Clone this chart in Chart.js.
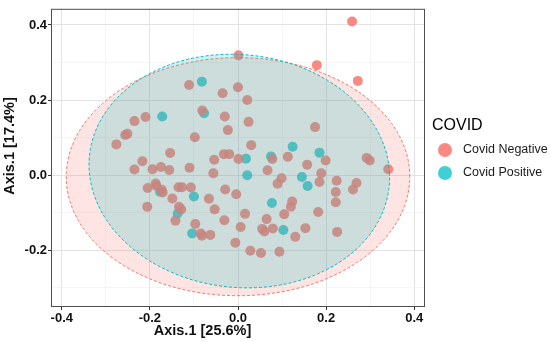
<!DOCTYPE html>
<html>
<head>
<meta charset="utf-8">
<script src="https://cdn.jsdelivr.net/npm/chart.js@4.4.1/dist/chart.umd.min.js"></script>
<style>
  html, body { margin: 0; padding: 0; background: #fff; }
</style>
</head>
<body>
<canvas id="pcoa" width="551" height="342"></canvas>
<script>
// groups
const groups = ['Covid Negative', 'Covid Positive'];

// Covid Negative samples (Axis.1 [25.6%], Axis.1 [17.4%])
const negX = [0.259, 0.001, 0.179, 0.272, -0.111, 0.000, -0.035, 0.021, -0.081, -0.210,
  -0.030, -0.235, 0.024, 0.175, -0.023, -0.256, -0.251, -0.098, -0.276, 0.030,
  -0.154, -0.032, -0.020, 0.292, 0.299, -0.217, -0.054, 0.001, 0.078, 0.113,
  0.199, -0.235, -0.194, -0.175, -0.156, -0.110, 0.157, 0.341, -0.056, 0.067,
  0.189, 0.099, 0.090, 0.185, 0.224, 0.269, 0.261, 0.222, 0.222, -0.187,
  -0.185, -0.173, -0.171, -0.205, -0.149, -0.135, -0.127, -0.107, -0.029, -0.004,
  -0.066, -0.206, -0.134, -0.129, -0.142, -0.097, -0.053, 0.123, 0.120, 0.182,
  0.105, 0.016, -0.031, 0.065, 0.006, -0.085, -0.082, -0.063, 0.055, 0.060,
  0.079, 0.153, 0.225, 0.130, -0.006, 0.028, 0.052, 0.094];
const negY = [0.409, 0.319, 0.293, 0.251, 0.240, 0.234, 0.218, 0.200, 0.172, 0.155,
  0.156, 0.144, 0.142, 0.128, 0.120, 0.107, 0.110, 0.101, 0.082, 0.080,
  0.059, 0.056, 0.056, 0.046, 0.039, 0.037, 0.041, 0.043, 0.043, 0.049,
  0.039, 0.015, 0.016, 0.022, 0.014, 0.020, 0.028, 0.016, 0.005, 0.013,
  0.005, -0.008, -0.023, -0.018, -0.015, -0.021, -0.038, -0.045, -0.072, -0.022,
  -0.029, -0.039, -0.046, -0.034, -0.062, -0.032, -0.032, -0.033, -0.038, -0.051,
  -0.063, -0.084, -0.084, -0.091, -0.121, -0.130, -0.091, -0.070, -0.084, -0.098,
  -0.104, -0.103, -0.120, -0.117, -0.138, -0.155, -0.161, -0.159, -0.143, -0.150,
  -0.142, -0.141, -0.151, -0.164, -0.180, -0.201, -0.207, -0.204];

// Covid Positive samples
const posX = [-0.082, -0.172, -0.077, 0.124, 0.185, 0.018, 0.075, 0.021, 0.145, 0.158,
  -0.177, -0.100, -0.137, 0.077, -0.104, 0.103];
const posY = [0.249, 0.156, 0.165, 0.076, 0.060, 0.044, 0.050, 0.000, -0.005, -0.029,
  -0.044, -0.057, -0.102, -0.074, -0.155, -0.146];

// 95% ellipses: centre x, centre y, then x/y of the two conjugate half axes
const negEllipse = [0.000, -0.004, 0.390, 0.000, 0.000, 0.317];
const posEllipse = [0.003, 0.011, 0.341, -0.012, -0.006, 0.311];

const xTicks = [-0.4, -0.2, 0.0, 0.2, 0.4];
const yTicks = [-0.2, 0.0, 0.2, 0.4];
const xTitle = 'Axis.1 [25.6%]';
const yTitle = 'Axis.1 [17.4%]';

const RED = '#F8766D';
const TEAL = '#00BFC4';
const FONT = "'Liberation Sans', Arial, Helvetica, sans-serif";

function toPoints(xs, ys) {
  return xs.map((v, i) => ({ x: v, y: ys[i] }));
}

function isMajor(v, list) {
  return list.some(t => Math.abs(t - v) < 1e-6);
}

// ellipse outline, drawn through the chart scales
function drawEllipse(chart, e, line, fill) {
  const { ctx, scales: { x, y } } = chart;
  ctx.save();
  ctx.beginPath();
  for (let i = 0; i <= 180; i++) {
    const t = i / 180 * Math.PI * 2;
    const vx = e[0] + e[2] * Math.cos(t) + e[3] * Math.sin(t);
    const vy = e[1] + e[4] * Math.cos(t) + e[5] * Math.sin(t);
    const px = x.getPixelForValue(vx);
    const py = y.getPixelForValue(vy);
    if (i === 0) ctx.moveTo(px, py); else ctx.lineTo(px, py);
  }
  ctx.closePath();
  ctx.fillStyle = fill;
  ctx.fill();
  ctx.setLineDash([3, 2]);
  ctx.lineWidth = 1;
  ctx.strokeStyle = line;
  ctx.stroke();
  ctx.restore();
}

const ellipsePlugin = {
  id: 'ellipses',
  afterDatasetsDraw(chart) {
    drawEllipse(chart, negEllipse, RED, 'rgba(248,118,109,0.2)');
    drawEllipse(chart, posEllipse, TEAL, 'rgba(0,191,196,0.2)');
    // panel border
    const a = chart.chartArea;
    const ctx = chart.ctx;
    ctx.save();
    ctx.strokeStyle = '#4d4d4d';
    ctx.lineWidth = 1;
    ctx.strokeRect(a.left + 0.5, a.top + 0.5, a.right - a.left - 1, a.bottom - a.top - 1);
    ctx.restore();
  }
};

// axis titles + legend on the right
const labelPlugin = {
  id: 'labels',
  afterDraw(chart) {
    const ctx = chart.ctx;
    ctx.save();
    ctx.fillStyle = '#111';
    ctx.font = 'bold 14.5px ' + FONT;
    ctx.textAlign = 'center';
    ctx.textBaseline = 'middle';
    ctx.fillText(xTitle, 202.5, 331);
    ctx.save();
    ctx.translate(9.5, 146);
    ctx.rotate(-Math.PI / 2);
    ctx.fillText(yTitle, 0, 0);
    ctx.restore();

    ctx.fillStyle = '#000';
    ctx.font = '16px ' + FONT;
    ctx.textBaseline = 'alphabetic';
    ctx.textAlign = 'left';
    ctx.fillText('COVID', 432, 130);
    const cols = ['rgba(248,118,109,0.85)', 'rgba(0,191,196,0.75)'];
    ctx.font = '12.5px ' + FONT;
    ctx.textBaseline = 'middle';
    groups.forEach((g, i) => {
      const cy = 150 + i * 23;
      ctx.beginPath();
      ctx.arc(445, cy, 7, 0, Math.PI * 2);
      ctx.fillStyle = cols[i];
      ctx.fill();
      ctx.fillStyle = '#1a1a1a';
      ctx.fillText(g, 463, cy);
    });
    ctx.restore();
  }
};

const gridOpts = list => ({
  color: c => isMajor(c.tick.value, list) ? '#e3e3e3' : '#f1f1f1',
  lineWidth: c => isMajor(c.tick.value, list) ? 1 : 0.7,
  tickColor: c => isMajor(c.tick.value, list) ? '#333' : 'rgba(0,0,0,0)',
  tickLength: 3,
  drawOnChartArea: true
});

new Chart(document.getElementById('pcoa').getContext('2d'), {
  type: 'scatter',
  data: {
    datasets: [
      {
        label: groups[0],
        data: toPoints(negX, negY),
        backgroundColor: 'rgba(248,118,109,0.85)',
        borderWidth: 0,
        pointRadius: 5,
        pointHoverRadius: 5
      },
      {
        label: groups[1],
        data: toPoints(posX, posY),
        backgroundColor: 'rgba(0,191,196,0.75)',
        borderWidth: 0,
        pointRadius: 5,
        pointHoverRadius: 5
      }
    ]
  },
  options: {
    responsive: false,
    animation: false,
    events: [],
    layout: { padding: { left: 0, right: 126, top: 3, bottom: 0 } },
    plugins: {
      legend: { display: false },
      tooltip: { enabled: false }
    },
    scales: {
      x: {
        type: 'linear',
        min: -0.4245,
        max: 0.4245,
        afterFit: s => { s.height = 35; },
        ticks: {
          stepSize: 0.1,
          includeBounds: false,
          padding: 1,
          maxRotation: 0,
          autoSkip: false,
          color: '#111',
          font: { family: FONT, size: 13, weight: 'bold' },
          callback: v => isMajor(v, xTicks) ? (Math.round(v * 10) / 10).toFixed(1) : ''
        },
        grid: gridOpts(xTicks),
        border: { display: false }
      },
      y: {
        type: 'linear',
        min: -0.351,
        max: 0.443,
        afterFit: s => { s.width = 51; },
        ticks: {
          stepSize: 0.1,
          includeBounds: false,
          padding: 1,
          autoSkip: false,
          color: '#111',
          font: { family: FONT, size: 13, weight: 'bold' },
          callback: v => isMajor(v, yTicks) ? (Math.round(v * 10) / 10).toFixed(1) : ''
        },
        grid: gridOpts(yTicks),
        border: { display: false }
      }
    }
  },
  plugins: [ellipsePlugin, labelPlugin]
});
</script>
</body>
</html>
